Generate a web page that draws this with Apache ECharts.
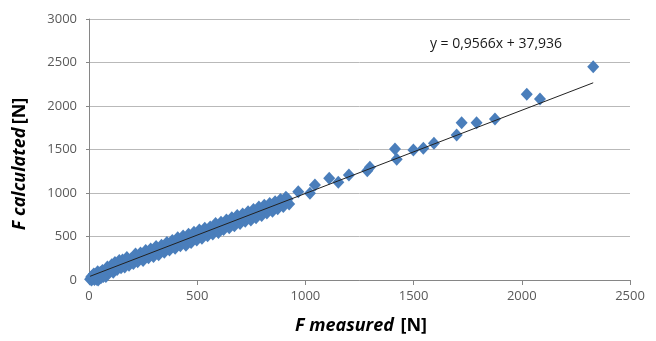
<!DOCTYPE html>
<html>
<head>
<meta charset="utf-8">
<script src="https://cdn.jsdelivr.net/npm/echarts@6/dist/echarts.min.js"></script>
<style>
  html, body { margin: 0; padding: 0; background: #fff; }
  #chart { width: 656px; height: 341px; }
</style>
</head>
<body>
<div id="chart"></div>
<script>
// measured force [N]
const measured = [
  5, 10, 12, 18, 22, 25, 30, 35, 40, 42, 48, 55, 62, 70, 78, 85, 95, 105, 112, 120,
  130, 140, 148, 155, 165, 175, 185, 195, 205, 215, 225, 238, 250, 262, 275, 285, 298, 310, 322, 335,
  348, 360, 372, 385, 398, 410, 422, 435, 448, 460, 472, 485, 498, 510, 522, 535, 548, 560, 572, 585,
  598, 610, 622, 635, 648, 660, 672, 685, 698, 710, 722, 735, 748, 760, 772, 785, 798, 810, 822, 835,
  848, 860, 872, 885, 898, 910, 925,
  15, 28, 52, 66, 90, 100, 125, 160, 180, 200, 230, 245, 268, 292, 305, 328, 342, 355, 366, 378,
  392, 404, 416, 428, 441, 454, 466, 479, 492, 504, 516, 528, 541, 554, 566, 578, 591, 604, 616, 628,
  641, 654, 666, 678, 691, 704, 716, 728, 741, 754, 766, 778, 791, 804, 816, 828, 841, 854, 866, 878,
  891, 904, 918,
  967, 1021, 1044, 1110, 1152, 1201, 1286, 1298, 1414, 1422, 1499, 1545, 1594,
  1699, 1722, 1791, 1876, 2023, 2084, 2330
];
// calculated force [N]
const calculated = [
  10, 35, 0, 20, 70, 5, 40, 10, 95, 0, 55, 25, 110, 60, 40, 150, 95, 175, 90, 200,
  120, 225, 140, 230, 150, 260, 170, 245, 190, 300, 210, 310, 225, 340, 255, 355, 270, 385, 290, 400,
  320, 430, 345, 455, 365, 485, 395, 505, 400, 525, 430, 550, 460, 575, 480, 595, 510, 610, 530, 650,
  545, 665, 580, 690, 600, 715, 625, 740, 650, 760, 675, 785, 690, 810, 715, 840, 740, 860, 770, 880,
  790, 900, 820, 925, 845, 950, 875,
  45, 60, 85, 40, 125, 110, 165, 200, 230, 215, 270, 265, 295, 320, 330, 350, 380, 370, 400, 420,
  410, 440, 450, 460, 470, 490, 480, 510, 520, 530, 540, 555, 560, 575, 585, 600, 615, 620, 640, 650,
  660, 670, 690, 700, 715, 720, 735, 745, 760, 765, 785, 790, 805, 820, 830, 845, 855, 870, 880, 890,
  905, 910, 930,
  1015, 996, 1092, 1169, 1123, 1207, 1256, 1295, 1506, 1387, 1494, 1513, 1571,
  1667, 1808, 1808, 1851, 2134, 2080, 2452
];
const xTicks = [0, 500, 1000, 1500, 2000, 2500];
const yTicks = [0, 500, 1000, 1500, 2000, 2500, 3000];
const slope = 0.9566;
const intercept = 37.936;
const equation = 'y = 0,9566x + 37,936';

const points = measured.map((x, i) => [x, calculated[i]]);
const xMin = Math.min(...measured);
const xMax = Math.max(...measured);
const trend = [[xMin, slope * xMin + intercept], [xMax, slope * xMax + intercept]];

const chart = echarts.init(document.getElementById('chart'));
const tickFont = { color: '#595959', fontSize: 13, fontFamily: 'Open Sans', formatter: v => String(v) };
const titleRich = {
  a: { fontFamily: 'Open Sans', fontSize: 18, fontWeight: 'bold', fontStyle: 'italic', color: '#000' },
  b: { fontFamily: 'Open Sans', fontSize: 18, fontWeight: 'bold', color: '#000' }
};

chart.setOption({
  animation: false,
  backgroundColor: '#fff',
  grid: { left: 89, right: 26, top: 19, bottom: 61 },
  xAxis: {
    type: 'value', min: xTicks[0], max: xTicks[xTicks.length - 1], interval: 500,
    axisLine: { lineStyle: { color: '#868686' } },
    axisTick: { show: true, length: 5, lineStyle: { color: '#868686' } },
    axisLabel: Object.assign({ margin: 10 }, tickFont),
    splitLine: { show: false }
  },
  yAxis: {
    type: 'value', min: yTicks[0], max: yTicks[yTicks.length - 1], interval: 500,
    axisLine: { show: true, lineStyle: { color: '#868686' } },
    axisTick: { show: true, length: 3, lineStyle: { color: '#868686' } },
    axisLabel: Object.assign({ margin: 12 }, tickFont),
    splitLine: { lineStyle: { color: '#b9b9b9' } }
  },
  graphic: [
    {
      type: 'text', x: 361, y: 326,
      style: { text: '{a|F measured}  {b|[N]}', rich: titleRich, align: 'center', verticalAlign: 'middle' }
    },
    {
      type: 'text', x: 20, y: 164, rotation: Math.PI / 2,
      style: { text: '{a|F calculated} {b|[N]}', rich: titleRich, align: 'center', verticalAlign: 'middle' }
    },
    {
      type: 'text', x: 496, y: 44,
      style: { text: equation, font: '14px "Open Sans"', fill: '#1a1a1a', align: 'center', verticalAlign: 'middle' }
    }
  ],
  series: [
    {
      type: 'scatter',
      data: points,
      symbol: 'diamond',
      symbolSize: [12, 13],
      itemStyle: { color: '#4A7EBB', opacity: 1 }
    },
    {
      type: 'line',
      data: trend,
      symbol: 'none',
      z: 5,
      lineStyle: { color: '#222', width: 1 }
    }
  ]
});
</script>
</body>
</html>
